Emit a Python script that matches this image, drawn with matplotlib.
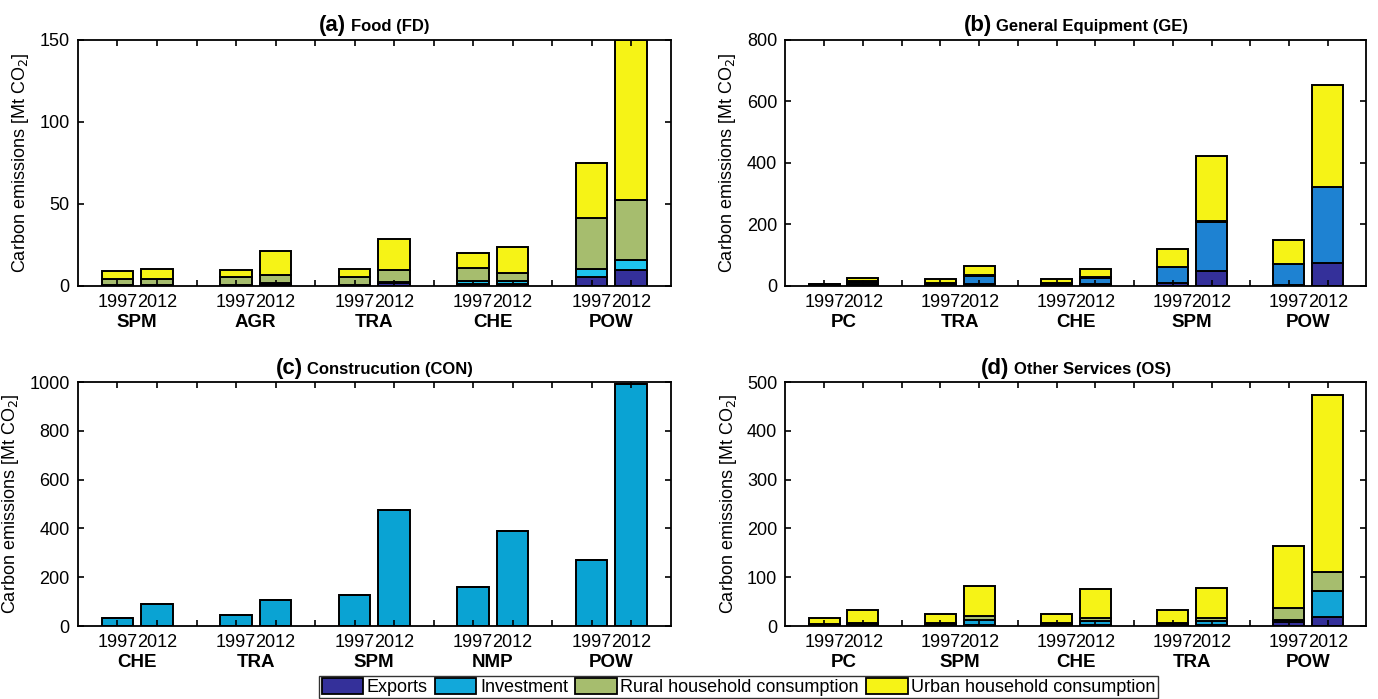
import numpy as np
import matplotlib
matplotlib.use('Agg')
import matplotlib.pyplot as plt
from matplotlib.patches import Patch
from matplotlib.offsetbox import TextArea, HPacker, AnchoredOffsetbox

plt.rcParams['font.family'] = ['Liberation Sans Narrow', 'Liberation Sans', 'DejaVu Sans']

years = ['1997', '2012']
series = ['Exports', 'Investment', 'Rural household consumption', 'Urban household consumption']

# (a) Food (FD)
fd_sectors = ['SPM', 'AGR', 'TRA', 'CHE', 'POW']
fd_exports = [0.2, 0.3, 0.2, 1.0, 0.3, 1.5, 1.0, 1.0, 5.7, 9.8]
fd_invest  = [0.3, 0.5, 0.3, 0.6, 0.4, 1.1, 2.0, 2.0, 4.5, 6.1]
fd_rural   = [3.6, 3.1, 5.0, 5.1, 4.8, 7.2, 8.2, 4.8, 31.2, 36.5]
fd_urban   = [4.7, 6.5, 4.3, 14.3, 4.9, 19.0, 8.8, 15.7, 33.3, 97.2]

# (b) General Equipment (GE)
ge_sectors = ['PC', 'TRA', 'CHE', 'SPM', 'POW']
ge_exports = [3, 6, 3, 5, 3, 5, 8, 47, 3, 74]
ge_invest  = [2, 8, 7, 28, 7, 22, 52, 162, 68, 247]
ge_rural   = [0.3, 1, 1, 1, 1, 1, 1, 1, 1, 1]
ge_urban   = [1, 10, 11, 32, 11, 27, 60, 212, 76, 332]

# (c) Construction (CON)
con_sectors = ['CHE', 'TRA', 'SPM', 'NMP', 'POW']
con_exports = [0, 0, 0, 0, 0, 0, 0, 0, 0, 0]
con_invest  = [34, 92, 44, 105, 128, 474, 160, 388, 270, 993]
con_rural   = [0, 0, 0, 0, 0, 0, 0, 0, 0, 0]
con_urban   = [0, 0, 0, 0, 0, 0, 0, 0, 0, 0]

# (d) Other Services (OS)
os_sectors = ['PC', 'SPM', 'CHE', 'TRA', 'POW']
os_exports = [1, 1, 1, 2, 1, 2, 1, 2, 8, 18]
os_invest  = [1, 2, 1, 10, 1, 8, 1, 8, 4, 54]
os_rural   = [2, 3, 4, 8, 4, 7, 5, 7, 25, 39]
os_urban   = [13, 26, 19, 63, 19, 58, 25, 61, 128, 363]

c_exp = '#34309a'
c_rur = '#a6bd6e'
c_urb = '#f6f316'

panels = [
    ('(a)', 'Food (FD)', fd_sectors, [fd_exports, fd_invest, fd_rural, fd_urban],
     '#1ec4ee', 150, 50, [0.0566, 0.591, 0.430, 0.352]),
    ('(b)', 'General Equipment (GE)', ge_sectors, [ge_exports, ge_invest, ge_rural, ge_urban],
     '#1e82d2', 800, 200, [0.570, 0.591, 0.4216, 0.352]),
    ('(c)', 'Construcution (CON)', con_sectors, [con_exports, con_invest, con_rural, con_urban],
     '#0aa3d3', 1000, 200, [0.0566, 0.1044, 0.430, 0.349]),
    ('(d)', 'Other Services (OS)', os_sectors, [os_exports, os_invest, os_rural, os_urban],
     '#12a4d6', 500, 100, [0.570, 0.1044, 0.4216, 0.349]),
]

# two bars per sector, one empty slot between sectors
pos = np.array([1, 2, 4, 5, 7, 8, 10, 11, 13, 14])

fig = plt.figure(figsize=(13.78, 6.99), dpi=100)

for tag, name, sectors, stack, c_inv, ymax, ystep, rect in panels:
    ax = fig.add_axes(rect)
    colors = [c_exp, c_inv, c_rur, c_urb]
    bottom = np.zeros(len(pos))
    for vals, col in zip(stack, colors):
        vals = np.array(vals, dtype=float)
        ax.bar(pos, vals, 0.8, bottom=bottom, color=col, edgecolor='black', lw=1.4)
        bottom += vals
    ax.set_xlim(0, 15)
    ax.set_ylim(0, ymax)
    ax.set_yticks(np.arange(0, ymax + 1, ystep))
    ax.set_xticks(np.arange(1, 15))
    ax.set_xticklabels([years[i % 3] if i % 3 < 2 else '' for i in range(14)])
    ax.tick_params(direction='in', top=True, right=True, length=4, width=1.2,
                   labelsize=13, pad=6)
    for sp in ax.spines.values():
        sp.set_linewidth(1.3)
    for k, s in enumerate(sectors):
        ax.annotate(s, xy=(pos[2 * k] + 0.5, 0), xycoords=('data', 'axes fraction'),
                    xytext=(0, -20), textcoords='offset points', ha='center', va='top',
                    fontsize=13.5, fontweight='bold')
    ax.set_ylabel('Carbon emissions [Mt CO$_2$]', fontsize=13, labelpad=6)
    t1 = TextArea(tag, textprops=dict(fontsize=16, fontweight='bold'))
    t2 = TextArea(name, textprops=dict(fontsize=12, fontweight='bold'))
    box = HPacker(children=[t1, t2], align='baseline', pad=0, sep=3)
    ab = AnchoredOffsetbox(loc='lower center', child=box, pad=0, frameon=False,
                           bbox_to_anchor=(0.5, 1.0), bbox_transform=ax.transAxes,
                           borderpad=0.25)
    ax.add_artist(ab)

handles = [Patch(facecolor=c, edgecolor='black', lw=1.3)
           for c in [c_exp, '#12a8da', c_rur, c_urb]]
leg = fig.legend(handles, series, loc='center', bbox_to_anchor=(0.536, 0.017), ncol=4,
                 fontsize=13, frameon=True, fancybox=False, edgecolor='black',
                 handlelength=2.3, handleheight=1.0, handletextpad=0.2,
                 columnspacing=0.4, borderpad=0.12, borderaxespad=0)
leg.get_frame().set_linewidth(1.0)

fig.savefig('out.png', dpi=100)
